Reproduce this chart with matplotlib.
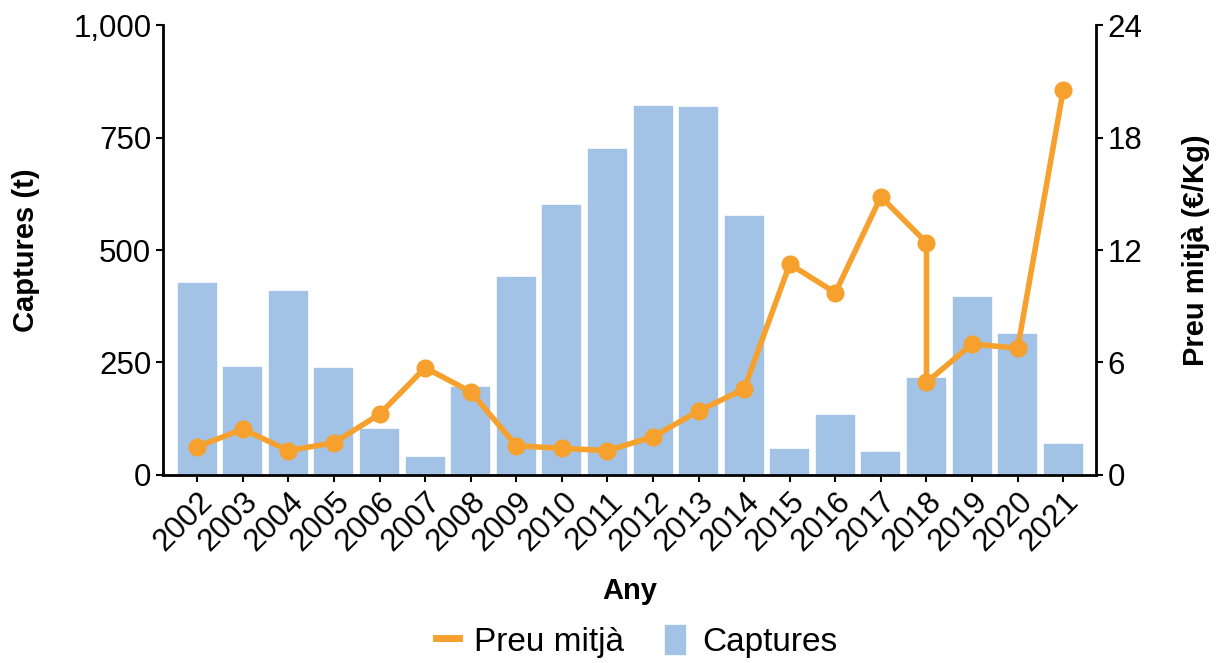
import matplotlib.pyplot as plt
from matplotlib.ticker import FuncFormatter

plt.rcParams['font.family'] = ['Liberation Sans', 'DejaVu Sans']

anys = [2002, 2003, 2004, 2005, 2006, 2007, 2008, 2009, 2010, 2011,
        2012, 2013, 2014, 2015, 2016, 2017, 2018, 2019, 2020, 2021]
captures = [428, 242, 411, 241, 104, 42, 198, 443, 602, 726,
            822, 819, 578, 59, 136, 53, 217, 398, 316, 72]

# 2018 apareix dues vegades a la serie de preus
anys_preu = [2002, 2003, 2004, 2005, 2006, 2007, 2008, 2009, 2010, 2011,
             2012, 2013, 2014, 2015, 2016, 2017, 2018, 2018, 2019, 2020, 2021]
preu = [1.51, 2.44, 1.30, 1.72, 3.24, 5.72, 4.44, 1.56, 1.42, 1.30,
        2.04, 3.41, 4.59, 11.25, 9.72, 14.84, 12.39, 4.94, 6.99, 6.76, 20.53]

bar_color = '#A3C3E6'
line_color = '#F6A12D'

fig = plt.figure(figsize=(12.17, 6.63), dpi=100)
ax = fig.add_axes([0.134, 0.2836, 0.7666, 0.6786])
ax2 = ax.twinx()

pos = list(range(len(anys)))
ax.bar(pos, captures, width=0.9, color=bar_color, edgecolor='white', linewidth=1.2,
       label='Captures')
pos_preu = [anys.index(a) for a in anys_preu]
ax2.plot(pos_preu, preu, color=line_color, lw=4, marker='o', ms=12,
         solid_joinstyle='round', label='Preu mitjà')

ax.set_xlim(-0.75, 19.72)
ax.set_ylim(0, 1000)
ax2.set_ylim(0, 24)
ax.set_yticks([0, 250, 500, 750, 1000])
ax.yaxis.set_major_formatter(FuncFormatter(lambda v, p: f'{int(v):,}'))
ax2.set_yticks([0, 6, 12, 18, 24])
ax.set_xticks(pos)
ax.set_xticklabels([str(a) for a in anys], rotation=45, ha='right',
                   rotation_mode='anchor')

for a in (ax, ax2):
    a.spines['top'].set_visible(False)
    for s in ('left', 'right', 'bottom'):
        a.spines[s].set_linewidth(2)
    a.tick_params(width=1.5, length=5, labelsize=22.5)
ax.spines['right'].set_visible(False)
ax2.spines['left'].set_visible(False)
ax2.spines['bottom'].set_visible(False)

ax.set_ylabel('Captures (t)', fontsize=21, fontweight='bold', labelpad=24)
ax2.set_ylabel('Preu mitjà (€/Kg)', fontsize=21, fontweight='bold', labelpad=28)
ax.set_xlabel('Any', fontsize=21, fontweight='bold', labelpad=14)

h1, l1 = ax2.get_legend_handles_labels()
h2, l2 = ax.get_legend_handles_labels()
leg = fig.legend(h1 + h2, l1 + l2, loc='center', bbox_to_anchor=(0.523, 0.033),
                 ncol=2, frameon=False, fontsize=24, handlelength=0.7,
                 handleheight=1.1, columnspacing=1.2, handletextpad=0.45)
leg.legend_handles[0].set_marker('')
leg.legend_handles[0].set_linewidth(5)

fig.savefig('out.png', dpi=100)
